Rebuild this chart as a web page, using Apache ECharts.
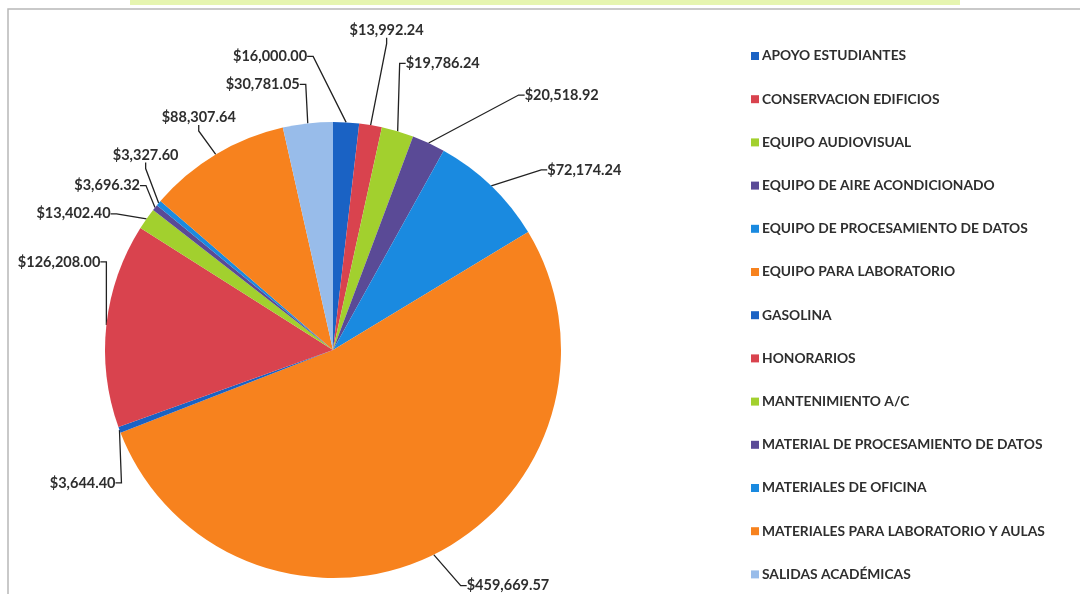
<!DOCTYPE html>
<html>
<head>
<meta charset="utf-8">
<script src="https://cdn.jsdelivr.net/npm/echarts@6/dist/echarts.min.js"></script>
<style>
html,body{margin:0;padding:0;background:#fff;}
#chart{width:1080px;height:594px;}
</style>
</head>
<body>
<div id="chart"></div>
<script>
const categories = [
  'APOYO ESTUDIANTES',
  'CONSERVACION EDIFICIOS',
  'EQUIPO AUDIOVISUAL',
  'EQUIPO DE AIRE ACONDICIONADO',
  'EQUIPO DE PROCESAMIENTO DE DATOS',
  'EQUIPO PARA LABORATORIO',
  'GASOLINA',
  'HONORARIOS',
  'MANTENIMIENTO A/C',
  'MATERIAL DE PROCESAMIENTO DE DATOS',
  'MATERIALES DE OFICINA',
  'MATERIALES PARA LABORATORIO Y AULAS',
  'SALIDAS ACADÉMICAS'
];
const amounts = [
  16000.00, 13992.24, 19786.24, 20518.92, 72174.24, 459669.57,
  3644.40, 126208.00, 13402.40, 3696.32, 3327.60, 88307.64, 30781.05
];
const colors = [
  '#1a62c4', '#d9434e', '#a2d02e', '#5a4a96', '#1a8ae0', '#f7821e',
  '#1a62c4', '#d9434e', '#a2d02e', '#5a4a96', '#1a8ae0', '#f7821e', '#98bcea'
];

// Callout placement (offset from each slice's edge anchor, Excel-like), style only
const calloutOffsets = [
  [-39, -66, 'right'], [16, -95, 'center'], [8, -68, 'left'], [96, -48, 'left'],
  [56, -16, 'left'], [33, 31, 'left'], [-4, 53, 'right'], [-6, -63, 'right'],
  [-36, -5, 'right'], [-15, -22, 'right'], [-13, -48, 'center'], [-17, -37, 'center'],
  [-8, -39, 'right']
];

function money(v) {
  return '$' + v.toLocaleString('en-US', {minimumFractionDigits: 2, maximumFractionDigits: 2});
}

const chart = echarts.init(document.getElementById('chart'));
chart.setOption({
  animation: false,
  backgroundColor: '#ffffff',
  color: colors,
  graphic: [
    {type: 'rect', shape: {x: 130, y: 0, width: 830, height: 5}, style: {fill: '#e6f5b0'}, silent: true},
    {type: 'polyline', shape: {points: [[8, 594], [8, 9], [1080, 9]]}, style: {stroke: '#b8b8b8', lineWidth: 1.5, fill: null}, silent: true}
  ],
  legend: {
    orient: 'vertical',
    left: 746,
    top: 44,
    itemWidth: 8,
    itemHeight: 8,
    itemGap: 29.2,
    icon: 'rect',
    textStyle: {fontFamily: 'Lato', fontSize: 13.8, fontWeight: 'bold', color: '#2e2e2e', lineHeight: 14, padding: [0, 0, 0, -2]},
    data: categories
  },
  series: [{
    type: 'pie',
    center: [333, 350],
    radius: 228,
    startAngle: 90,
    clockwise: true,
    avoidLabelOverlap: false,
    data: categories.map((c, i) => ({name: c, value: amounts[i]})),
    label: {
      show: true,
      position: 'outside',
      overflow: 'none',
      formatter: p => money(p.value),
      fontFamily: 'Lato',
      fontSize: 14.5,
      fontWeight: 'bold',
      color: '#2e2e2e'
    },
    labelLine: {
      show: true,
      length: 20,
      length2: 6,
      minTurnAngle: 10,
      lineStyle: {color: '#222', width: 1.3}
    },
    labelLayout: function (params) {
      const pts = params.labelLinePoints;
      const off = calloutOffsets[params.dataIndex];
      if (!pts || !off) return {};
      return {
        x: pts[0][0] + off[0],
        y: pts[0][1] + off[1],
        align: off[2],
        verticalAlign: 'middle'
      };
    },
    itemStyle: {borderWidth: 0}
  }]
});
</script>
</body>
</html>
